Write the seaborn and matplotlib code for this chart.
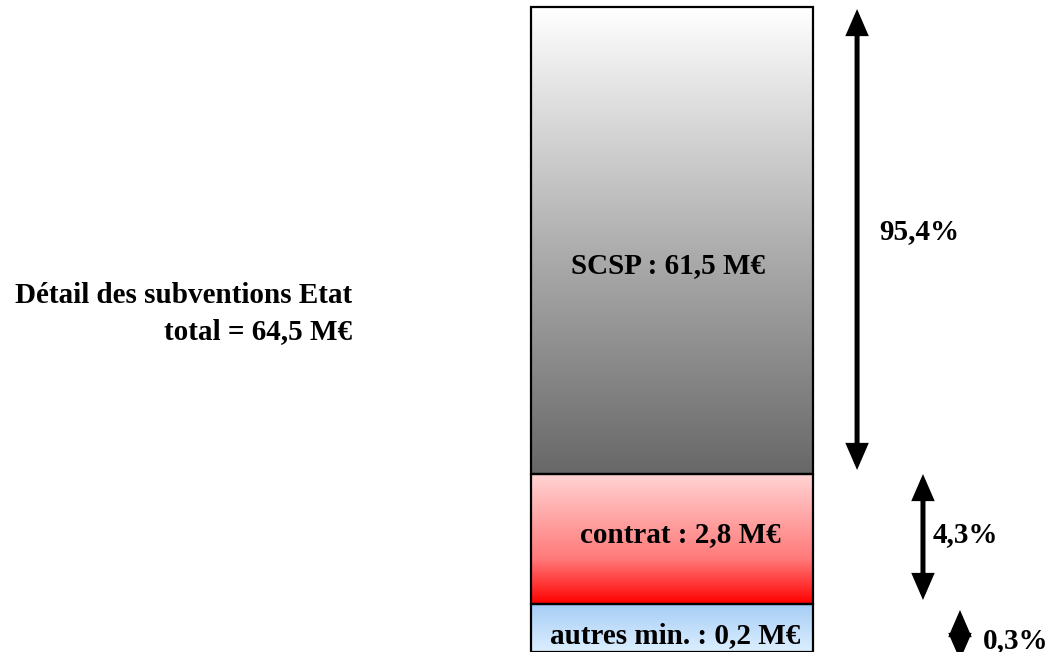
import numpy as np
import pandas as pd
import matplotlib
matplotlib.use("Agg")
import matplotlib.pyplot as plt
import seaborn as sns
from matplotlib.colors import LinearSegmentedColormap

# Données (hauteurs telles que dessinées, de bas en haut)
segments = ['autres min.', 'contrat', 'SCSP']
montants = ['0,2', '2,8', '61,5']
hauteurs = [48, 130, 467]
pourcentages = ['0,3%', '4,3%', '95,4%']
titre = ['Détail des subventions Etat', 'total = 64,5 M€']

sns.set_style("white")
plt.rcParams['font.family'] = ['Liberation Serif', 'DejaVu Serif']
plt.rcParams['font.weight'] = 'bold'
plt.rcParams['text.color'] = 'black'

fig = plt.figure(figsize=(10.56, 6.52), dpi=100)
ax = fig.add_axes([0, 0, 1, 1])

bas = np.concatenate([[0], np.cumsum(hauteurs)[:-1]])
df = pd.DataFrame({'barre': ['Etat'] * 3, 'segment': segments,
                   'hauteur': hauteurs, 'bas': bas})

for _, row in df.iterrows():
    sns.barplot(x=[row['barre']], y=[row['hauteur']], bottom=row['bas'],
                color='white', edgecolor='black', linewidth=1.6,
                width=0.8, ax=ax)

# Dégradés dans chaque segment
degrades = [
    LinearSegmentedColormap.from_list('autres', ['#dcefff', '#a6cdf6']),
    LinearSegmentedColormap.from_list('contrat', [(0, '#ff0000'), (0.35, '#ff7a7a'), (1, '#ffd3d3')]),
    LinearSegmentedColormap.from_list('scsp', [(0, '#686868'), (0.5, '#b0b0b0'), (1, '#ffffff')]),
]
grad = np.linspace(0, 1, 256).reshape(-1, 1)
for patch, cmap in zip(ax.patches, degrades):
    x0, y0 = patch.get_x(), patch.get_y()
    w, h = patch.get_width(), patch.get_height()
    im = ax.imshow(grad, extent=[x0, x0 + w, y0, y0 + h], origin='lower',
                   cmap=cmap, aspect='auto', zorder=1)
    im.set_clip_path(patch)
    patch.set_facecolor('none')
    patch.set_zorder(3)

ax.set_xlim(-672 / 352.5, (1056 - 672) / 352.5)
ax.set_ylim(0, 652)
ax.axis('off')

# Libellés des segments
fs = 21
lab_dx = [0.01, 0.023, -0.011]
lab_dy = [9, 62, 201]
for i, seg in enumerate(segments):
    ax.text(lab_dx[i], bas[i] + lab_dy[i], f"{seg} : {montants[i]} M€",
            ha='center', va='baseline', fontsize=fs, fontweight='bold',
            color='black', zorder=4)

# Flèches et pourcentages
fl_x = [0.817, 0.712, 0.525]
fl_haut = [-6, 0, -2]
fl_bas = [-8, 4, 4]
pc_x = [0.883, 0.738, 0.587]
pc_y = [4, 110, 413]
for i in range(3):
    haut = bas[i] + hauteurs[i] + fl_haut[i]
    b = bas[i] + fl_bas[i]
    ax.annotate('', xy=(fl_x[i], haut), xytext=(fl_x[i], b),
                arrowprops=dict(arrowstyle='<|-|>,head_length=0.6,head_width=0.26',
                                color='black', lw=3.6, joinstyle='miter',
                                capstyle='butt',
                                mutation_scale=22, shrinkA=0, shrinkB=0))
    ax.text(pc_x[i], pc_y[i], pourcentages[i], ha='left', va='baseline',
            fontsize=fs, fontweight='bold', color='black')

# Titre à gauche
fig.text(352 / 1056, 1 - 303 / 652, titre[0], ha='right', va='baseline',
         fontsize=fs, fontweight='bold', color='black')
fig.text(352 / 1056, 1 - 339 / 652, titre[1], ha='right', va='baseline',
         fontsize=fs, fontweight='bold', color='black')

fig.savefig('out.png', dpi=100)
